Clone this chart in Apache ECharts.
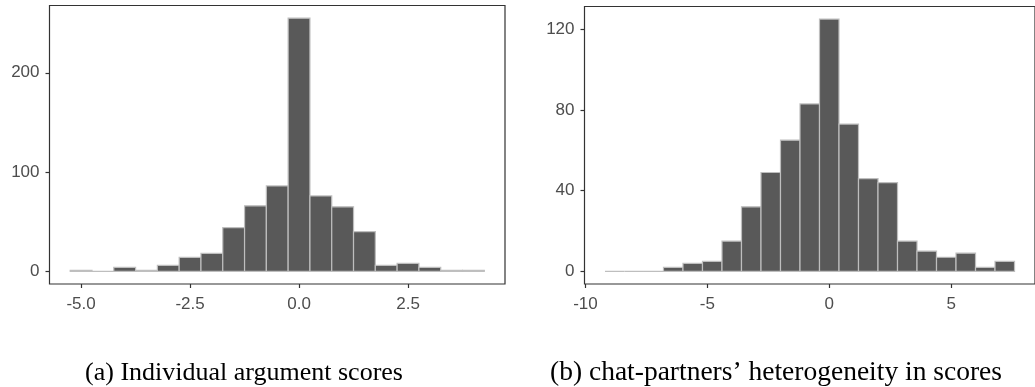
<!DOCTYPE html>
<html>
<head>
<meta charset="utf-8">
<script src="https://cdn.jsdelivr.net/npm/echarts@6/dist/echarts.min.js"></script>
<style>
  html, body { margin: 0; padding: 0; background: #ffffff; }
  #chart { width: 1035px; height: 387px; }
</style>
</head>
<body>
<div id="chart"></div>
<script>
// (a) Individual argument scores: bin centres and counts
const scoreBinWidth = 0.5;
const scoreBinCenters = [-5, -4.5, -4, -3.5, -3, -2.5, -2, -1.5, -1, -0.5, 0, 0.5, 1, 1.5, 2, 2.5, 3, 3.5, 4];
const scoreCounts     = [1, 0, 4, 1, 6, 14, 18, 44, 66, 86, 255, 76, 65, 40, 6, 8, 4, 1, 1];
const scoreXTicks = [-5, -2.5, 0, 2.5];
const scoreXTickLabels = ['-5.0', '-2.5', '0.0', '2.5'];
const scoreYTicks = [0, 100, 200];

// (b) chat-partners' heterogeneity in scores: bin centres and counts
const hetBinWidth = 0.8;
const hetBinCenters = [-8.8, -8.0, -7.2, -6.4, -5.6, -4.8, -4.0, -3.2, -2.4, -1.6, -0.8, 0, 0.8, 1.6, 2.4, 3.2, 4.0, 4.8, 5.6, 6.4, 7.2];
const hetCounts     = [0, 0, 0, 2, 4, 5, 15, 32, 49, 65, 83, 125, 73, 46, 44, 15, 10, 7, 9, 2, 5];
const hetXTicks = [-10, -5, 0, 5];
const hetXTickLabels = ['-10', '-5', '0', '5'];
const hetYTicks = [0, 40, 80, 120];

const captions = ['(a) Individual argument scores', '(b) chat-partners\u2019 heterogeneity in scores'];

// ggplot-style 5% padding around the data range
function padded(lo, hi) {
  const e = (hi - lo) * 0.05;
  return [lo - e, hi + e];
}

const tickColor = '#333333';
const labelStyle = { color: '#4D4D4D', fontSize: 17, fontFamily: 'Liberation Sans, Arial, sans-serif' };

function xAxisFor(gridIndex, range, ticks, labels) {
  return {
    type: 'value', gridIndex, min: range[0], max: range[1],
    axisLine: { show: false, onZero: false },
    splitLine: { show: false },
    axisTick: { show: true, length: 4, customValues: ticks, lineStyle: { color: tickColor, width: 1.2 } },
    axisLabel: Object.assign({
      margin: 12, customValues: ticks,
      formatter: v => labels[ticks.indexOf(v)] !== undefined ? labels[ticks.indexOf(v)] : String(v)
    }, labelStyle)
  };
}

function yAxisFor(gridIndex, range, ticks) {
  return {
    type: 'value', gridIndex, min: range[0], max: range[1],
    axisLine: { show: false, onZero: false },
    splitLine: { show: false },
    axisTick: { show: true, length: 4, customValues: ticks, lineStyle: { color: tickColor, width: 1.2 } },
    axisLabel: Object.assign({ margin: 10, customValues: ticks }, labelStyle)
  };
}

function histSeries(index, centers, counts, width) {
  return {
    type: 'custom', xAxisIndex: index, yAxisIndex: index,
    data: centers.map((c, i) => [c, counts[i]]),
    encode: { x: 0, y: 1 },
    renderItem: function (params, api) {
      const c = api.value(0), n = api.value(1);
      const p0 = api.coord([c - width / 2, n]);
      const p1 = api.coord([c + width / 2, 0]);
      return {
        type: 'rect',
        shape: { x: p0[0], y: p0[1], width: p1[0] - p0[0], height: p1[1] - p0[1] },
        style: { fill: '#595959', stroke: '#BEBEBE', lineWidth: 1.2 }
      };
    }
  };
}

const scoreX = padded(scoreBinCenters[0] - scoreBinWidth / 2, scoreBinCenters[scoreBinCenters.length - 1] + scoreBinWidth / 2);
const scoreY = padded(0, Math.max(...scoreCounts));
const hetX = padded(hetBinCenters[0] - hetBinWidth / 2, hetBinCenters[hetBinCenters.length - 1] + hetBinWidth / 2);
const hetY = padded(0, Math.max(...hetCounts));

const chart = echarts.init(document.getElementById('chart'), null, { renderer: 'canvas' });
chart.setOption({
  animation: false,
  backgroundColor: '#ffffff',
  grid: [
    { left: 49.5, top: 5.5, width: 455.5, height: 278.5, show: true, borderColor: '#333333', borderWidth: 1.2, backgroundColor: 'transparent' },
    { left: 584.5, top: 6.5, width: 453.5, height: 277.5, show: true, borderColor: '#333333', borderWidth: 1.2, backgroundColor: 'transparent' }
  ],
  xAxis: [
    xAxisFor(0, scoreX, scoreXTicks, scoreXTickLabels),
    xAxisFor(1, hetX, hetXTicks, hetXTickLabels)
  ],
  yAxis: [
    yAxisFor(0, scoreY, scoreYTicks),
    yAxisFor(1, hetY, hetYTicks)
  ],
  series: [
    histSeries(0, scoreBinCenters, scoreCounts, scoreBinWidth),
    histSeries(1, hetBinCenters, hetCounts, hetBinWidth)
  ],
  graphic: [
    { type: 'text', x: 244, y: 373, style: { text: captions[0], align: 'center', verticalAlign: 'middle', fill: '#000000', font: '26px "Liberation Serif", "Times New Roman", serif' } },
    { type: 'text', x: 776, y: 373, style: { text: captions[1], align: 'center', verticalAlign: 'middle', fill: '#000000', font: '27.5px "Liberation Serif", "Times New Roman", serif' } }
  ]
});
</script>
</body>
</html>
